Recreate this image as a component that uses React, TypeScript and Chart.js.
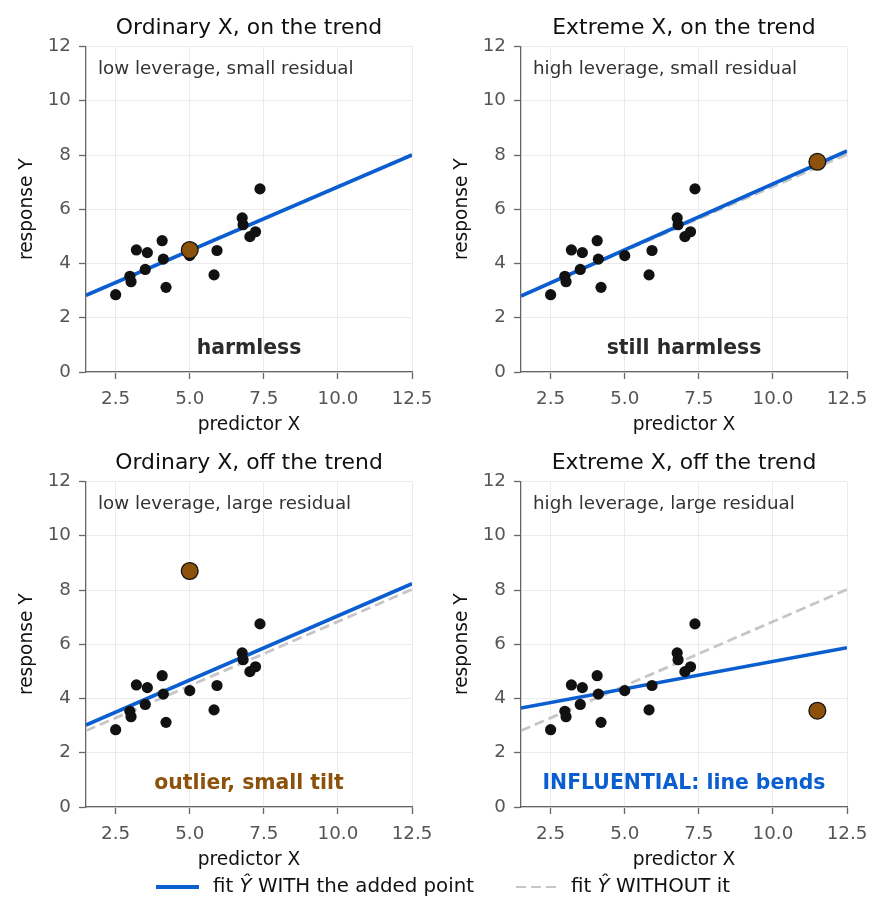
import React, { useEffect, useRef } from "react";
import { Chart, registerables } from "chart.js";
Chart.register(...registerables);

// ---- data ----
const baseX = [2.5, 2.98, 3.02, 3.2, 3.5, 3.57, 4.07, 4.11, 4.2, 5.0, 5.92, 5.82, 6.77, 6.8, 7.03, 7.22, 7.37];
const baseY = [2.85, 3.53, 3.33, 4.5, 3.78, 4.4, 4.84, 4.16, 3.12, 4.29, 4.48, 3.58, 5.68, 5.43, 4.99, 5.17, 6.75];

const panelTitles = [
  "Ordinary X, on the trend",
  "Extreme X, on the trend",
  "Ordinary X, off the trend",
  "Extreme X, off the trend",
];
const panelNotes = [
  "low leverage, small residual",
  "high leverage, small residual",
  "low leverage, large residual",
  "high leverage, large residual",
];
const panelVerdicts = ["harmless", "still harmless", "outlier, small tilt", "INFLUENTIAL: line bends"];
const verdictColors = ["#2b2b2b", "#2b2b2b", "#8c510a", "#0b5ed0"];

const addedX = [5.0, 11.5, 5.0, 11.5];
const addedY = [4.5, 7.75, 8.7, 3.55];

// fitted lines, read at the x-range ends (x = 1.5 and x = 12.5)
const lineXs = [1.5, 12.5];
const fitWithY = [
  [2.83, 8.0],
  [2.8, 8.15],
  [3.02, 8.23],
  [3.65, 5.87],
];
const fitWithoutY = [2.81, 8.02];

const xTicks = [2.5, 5.0, 7.5, 10.0, 12.5];
const yTicks = [0, 2, 4, 6, 8, 10, 12];

const FONT = "'DejaVu Sans', sans-serif";
const BLUE = "#0b5ed0";
const GREY_DASH = "#c6c6c9";
const BROWN = "#8c510a";

const W = 444;
const H = 440;
const PANEL_POS = [
  [0, 0],
  [435, 0],
  [0, 435],
  [435, 435],
];

function Panel({ idx }: { idx: number }) {
  const ref = useRef<HTMLCanvasElement | null>(null);
  useEffect(() => {
    const canvas = ref.current;
    if (!canvas) return;
    const textPlugin = {
      id: "panelText",
      afterDraw(chart: any) {
        const { ctx, chartArea } = chart;
        const cx = (chartArea.left + chartArea.right) / 2;
        ctx.save();
        ctx.textAlign = "center";
        ctx.textBaseline = "alphabetic";
        ctx.fillStyle = "#111";
        ctx.font = `21.9px ${FONT}`;
        ctx.fillText(panelTitles[idx], cx, chartArea.top - 13);
        ctx.textAlign = "left";
        ctx.fillStyle = "#333";
        ctx.font = `18.3px ${FONT}`;
        ctx.fillText(panelNotes[idx], chartArea.left + 12, chartArea.top + 27.5);
        ctx.textAlign = "center";
        ctx.fillStyle = verdictColors[idx];
        ctx.font = `bold 20.4px ${FONT}`;
        ctx.fillText(panelVerdicts[idx], cx, chartArea.bottom - 18);
        ctx.restore();
      },
    };
    const chart = new Chart(canvas, {
      type: "scatter",
      data: {
        datasets: [
          {
            label: "added",
            data: [{ x: addedX[idx], y: addedY[idx] }],
            pointRadius: 8.4,
            pointBackgroundColor: BROWN,
            pointBorderColor: "#111",
            pointBorderWidth: 1.3,
            order: 0,
          },
          {
            label: "base",
            data: baseX.map((x, i) => ({ x, y: baseY[i] })),
            pointRadius: 5.6,
            pointBackgroundColor: "#111",
            pointBorderColor: "#111",
            pointBorderWidth: 0,
            order: 1,
          },
          {
            label: "with",
            data: lineXs.map((x, i) => ({ x, y: fitWithY[idx][i] })),
            showLine: true,
            borderColor: BLUE,
            borderWidth: 3.6,
            pointRadius: 0,
            order: 2,
          },
          {
            label: "without",
            data: lineXs.map((x, i) => ({ x, y: fitWithoutY[i] })),
            showLine: true,
            borderColor: GREY_DASH,
            borderWidth: 2.8,
            borderDash: [10, 5],
            pointRadius: 0,
            order: 3,
          },
        ],
      },
      options: {
        animation: false,
        responsive: false,
        maintainAspectRatio: false,
        layout: { padding: { left: 0, right: 32, top: 46.5, bottom: 0 } },
        plugins: { legend: { display: false }, tooltip: { enabled: false }, title: { display: false } },
        scales: {
          x: {
            type: "linear",
            min: 1.5,
            max: 12.5,
            afterBuildTicks: (s: any) => {
              s.ticks = xTicks.map((v) => ({ value: v }));
            },
            afterFit: (s: any) => {
              s.height = 68;
            },
            ticks: {
              callback: (v: any) => Number(v).toFixed(1),
              font: { family: FONT, size: 18.3 },
              color: "#555",
              padding: 9,
              maxRotation: 0,
              autoSkip: false,
            },
            grid: { color: "#ebebeb", lineWidth: 1, tickColor: "#666", tickLength: 7, tickWidth: 1.3 },
            border: { color: "#666", width: 1.3 },
            title: {
              display: true,
              text: "predictor X",
              font: { family: FONT, size: 18.6 },
              color: "#111",
              padding: { top: 0, bottom: 4 },
            },
          },
          y: {
            type: "linear",
            min: 0,
            max: 12,
            afterBuildTicks: (s: any) => {
              s.ticks = yTicks.map((v) => ({ value: v }));
            },
            afterFit: (s: any) => {
              s.width = 86;
            },
            ticks: {
              font: { family: FONT, size: 18.3 },
              color: "#555",
              padding: 8,
              autoSkip: false,
            },
            grid: { color: "#ebebeb", lineWidth: 1, tickColor: "#666", tickLength: 7, tickWidth: 1.3 },
            border: { color: "#666", width: 1.3 },
            title: {
              display: true,
              text: "response Y",
              font: { family: FONT, size: 18.6 },
              color: "#111",
              padding: { top: 16, bottom: 0 },
            },
          },
        },
      },
      plugins: [textPlugin],
    } as any);
    return () => chart.destroy();
  }, [idx]);
  const [left, top] = PANEL_POS[idx];
  return (
    <canvas
      ref={ref}
      width={W}
      height={H}
      style={{ position: "absolute", left, top, width: W, height: H }}
    />
  );
}

export default function App() {
  const legendText: React.CSSProperties = {
    position: "absolute",
    top: 875,
    height: 22,
    lineHeight: "22px",
    fontFamily: FONT,
    fontSize: 19.8,
    color: "#111",
    whiteSpace: "nowrap",
  };
  return (
    <div style={{ position: "absolute", left: 0, top: 0, width: 888, height: 921, background: "#fff", overflow: "hidden" }}>
      {[0, 1, 2, 3].map((i) => (
        <Panel key={i} idx={i} />
      ))}
      <div style={{ position: "absolute", left: 156, top: 885, width: 43, height: 3.6, background: BLUE }} />
      <div style={{ ...legendText, left: 213 }}>
        fit <i>Ŷ</i> WITH the added point
      </div>
      <div
        style={{
          position: "absolute",
          left: 516,
          top: 885.5,
          width: 40,
          height: 2.8,
          background: `repeating-linear-gradient(to right, ${GREY_DASH} 0px, ${GREY_DASH} 10px, transparent 10px, transparent 15px)`,
        }}
      />
      <div style={{ ...legendText, left: 571 }}>
        fit <i>Ŷ</i> WITHOUT it
      </div>
    </div>
  );
}
